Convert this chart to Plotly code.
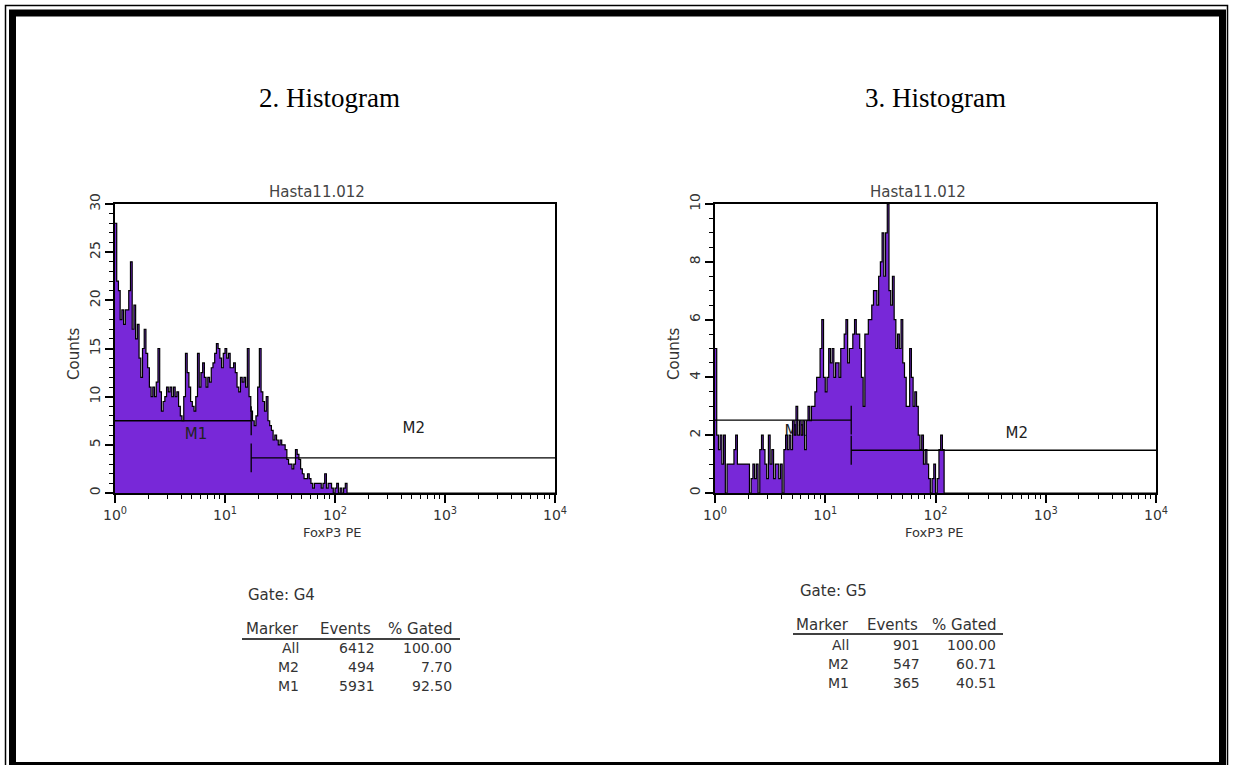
import plotly.graph_objects as go

W, H = 1234, 765

# ---------------- data ----------------
CHANNELS_PER_DECADE = 64
N_CHANNELS = 256

# counts per channel (channel 0 = 10^0)
LEFT_COUNTS = [28, 22, 21, 18, 19, 17.5, 19, 19, 21, 24, 17, 19.5, 16, 17.5, 14, 12, 15, 17, 14.5, 13,
               11, 10, 11, 10, 11.5, 15, 10.5, 8.5, 9.5, 10, 11, 10.5, 11, 10, 11, 10, 10.5, 9, 8, 7.5,
               10, 14.5, 12.5, 11, 9.5, 9, 8.5, 10, 14.5, 11, 12.5, 13.5, 12, 11, 12, 11.5, 13, 13.5, 14.5, 15.5,
               15, 14, 13, 14.5, 15, 14, 14.5, 13, 13, 13.5, 12.5, 11, 10.5, 12, 11.5, 12, 11, 15, 10, 8.5,
               7.5, 7, 8, 11, 15, 10.5, 9.5, 8.5, 10, 7.5, 7, 6.5, 5.5, 6, 5.5, 5, 5.5, 5, 5, 4.5,
               3.5, 3, 3, 2.5, 3, 4.5, 4, 3.5, 2.5, 2, 1.5, 1.5, 2, 1.5, 1, 0.5, 1, 1, 1, 1,
               0.5, 1, 2, 0.5, 1, 1, 0.5, 0, 0.5, 1, 0, 0.5, 0, 0.5, 1, 0]

RIGHT_COUNTS = [5, 2, 1.5, 2, 1, 2, 0, 1, 1, 1, 1, 1.5, 2,
                1, 1, 1, 1, 1, 1, 1, 0, 0.5, 1, 0.5, 1, 0,
                1.5, 2, 1.5, 1, 0.5, 2, 1, 1.5, 0.5, 1, 1, 0.5, 1, 0,
                1.5, 2, 1.5, 2, 1.5, 2.5, 2, 3, 2, 2.5, 2, 2.5, 1.5, 2.5, 3, 2.5, 3, 3, 3.5,
                4, 4, 5, 6, 4, 3.5, 4, 5, 4.5, 5, 4, 4.5, 4.5, 4, 5, 5, 5.5, 6, 4.5, 5,
                5, 5.5, 6, 5.5, 5.5, 5, 4, 3, 5.5, 5.5, 6, 6, 6.5, 7, 7, 6.5, 7.5, 8,
                9, 7.5, 9, 10, 7, 6.5, 7.5, 6, 5, 5.5, 5, 6, 4.5, 4, 3, 3, 5, 4, 3, 3.5,
                3, 2, 1.5, 2, 1, 1.5, 1, 0.5, 0, 0.5, 1, 0, 0.5, 1.5, 2, 1.5, 0]

X_TICK_VALUES = [1, 10, 100, 1000, 10000]
X_TICK_TEXT = ["10<sup>0</sup>", "10<sup>1</sup>", "10<sup>2</sup>", "10<sup>3</sup>", "10<sup>4</sup>"]
X_MINOR_DIGITS = [2, 3, 4, 5, 6, 7, 8, 9]

# markers: (start, end, level)
LEFT_M1 = (1, 17.3, 7.5)
LEFT_M2 = (17.3, 10000, 3.65)
RIGHT_M1 = (1, 17.2, 2.52)
RIGHT_M2 = (17.2, 10000, 1.48)

PANEL_TITLES = ["2. Histogram", "3. Histogram"]
FILE_NAME = "Hasta11.012"
X_LABEL = "FoxP3 PE"
Y_LABEL = "Counts"

TABLE_HEADERS = ["Marker", "Events", "% Gated"]
LEFT_GATE = "Gate: G4"
LEFT_MARKERS = ["All", "M2", "M1"]
LEFT_EVENTS = ["6412", "494", "5931"]
LEFT_GATED = ["100.00", "7.70", "92.50"]
RIGHT_GATE = "Gate: G5"
RIGHT_MARKERS = ["All", "M2", "M1"]
RIGHT_EVENTS = ["901", "547", "365"]
RIGHT_GATED = ["100.00", "60.71", "40.51"]

# ---------------- style ----------------
PURPLE = "#7828D8"
SANS = "DejaVu Sans, Verdana, sans-serif"
SERIF = "Liberation Serif, Times New Roman, serif"
TXT = "#333333"


def fx(px):
    return px / W


def fy(py):
    return 1 - py / H


def hist_xy(counts):
    vals = list(counts) + [0] * (N_CHANNELS - len(counts))
    xs = [10 ** (i / CHANNELS_PER_DECADE) for i in range(N_CHANNELS)] + [10 ** (N_CHANNELS / CHANNELS_PER_DECADE)]
    ys = vals + [vals[-1]]
    return xs, ys


def marker_xy(m1, m2, half):
    xs, ys = [], []
    for (a, b, lvl) in (m1, m2):
        xs += [a, b, None]
        ys += [lvl, lvl, None]
    # end tick of M1, start tick of M2
    xs += [m1[1], m1[1], None, m2[0], m2[0], None]
    ys += [m1[2] - half, m1[2] + half, None, m2[2] - half, m2[2] + half, None]
    return xs, ys


fig = go.Figure()

minor_vals = [d * 10 ** e for e in range(4) for d in X_MINOR_DIGITS]

panels = [
    dict(xa="x", ya="y", counts=LEFT_COUNTS, m1=LEFT_M1, m2=LEFT_M2, half=1.5,
         m1lab=(5.45, 6.0), m2lab=(520, 6.6), m1_under=False),
    dict(xa="x2", ya="y2", counts=RIGHT_COUNTS, m1=RIGHT_M1, m2=RIGHT_M2, half=0.5,
         m1lab=(5.4, 2.1), m2lab=(545, 2.05), m1_under=True),
]

for p in panels:
    lab_font = dict(family=SANS, size=15, color="#222222")
    if p["m1_under"]:
        fig.add_trace(go.Scatter(x=[p["m1lab"][0]], y=[p["m1lab"][1]], mode="text", text=["M1"],
                                 textfont=lab_font, xaxis=p["xa"], yaxis=p["ya"],
                                 showlegend=False, hoverinfo="skip"))
    hx, hy = hist_xy(p["counts"])
    fig.add_trace(go.Scatter(x=hx, y=hy, mode="lines", line=dict(shape="hv", color="black", width=1.2),
                             fill="tozeroy", fillcolor=PURPLE, xaxis=p["xa"], yaxis=p["ya"],
                             showlegend=False, hoverinfo="skip"))
    mx, my = marker_xy(p["m1"], p["m2"], p["half"])
    fig.add_trace(go.Scatter(x=mx, y=my, mode="lines", line=dict(color="black", width=1.3),
                             xaxis=p["xa"], yaxis=p["ya"], showlegend=False, hoverinfo="skip"))
    texts = [("M2", p["m2lab"])]
    if not p["m1_under"]:
        texts.append(("M1", p["m1lab"]))
    for t, (tx, ty) in texts:
        fig.add_trace(go.Scatter(x=[tx], y=[ty], mode="text", text=[t], textfont=lab_font,
                                 xaxis=p["xa"], yaxis=p["ya"], showlegend=False, hoverinfo="skip"))

xcommon = dict(type="log", range=[0, 4], showgrid=False, zeroline=False, showline=True,
               linecolor="black", linewidth=1.5, mirror=True, ticks="outside", ticklen=8,
               tickwidth=1.5, tickcolor="black", tickmode="array", tickvals=X_TICK_VALUES,
               ticktext=X_TICK_TEXT, tickangle=0, automargin=False,
               tickfont=dict(family=SANS, size=14, color=TXT),
               minor=dict(tickmode="array", tickvals=minor_vals, ticks="outside", ticklen=4,
                          tickwidth=1.2, tickcolor="black"),
               fixedrange=True)
ycommon = dict(showgrid=False, zeroline=False, showline=True, linecolor="black", linewidth=1.5,
               mirror=True, ticks="outside", ticklen=8, tickwidth=1.5, tickcolor="black",
               tickangle=-90, tickfont=dict(family=SANS, size=14, color=TXT), tick0=0,
               automargin=False, fixedrange=True)

ydom = [fy(493), fy(204)]
fig.update_layout(
    width=W, height=H,
    margin=dict(l=0, r=0, t=0, b=0, autoexpand=False),
    paper_bgcolor="white", plot_bgcolor="white",
    xaxis=dict(xcommon, domain=[fx(115), fx(555)], anchor="y"),
    yaxis=dict(ycommon, domain=ydom, anchor="x", range=[0, 30], dtick=5,
               minor=dict(dtick=1, ticks="outside", ticklen=4, tickwidth=1.2, tickcolor="black")),
    xaxis2=dict(xcommon, domain=[fx(715), fx(1156)], anchor="y2"),
    yaxis2=dict(ycommon, domain=ydom, anchor="x2", range=[0, 10], dtick=2,
                minor=dict(dtick=0.5, ticks="outside", ticklen=4, tickwidth=1.2, tickcolor="black")),
)

ann = []


def text(x, y, s, size, family=SANS, color=TXT, xanchor="center", angle=0):
    ann.append(dict(x=fx(x), y=fy(y), xref="paper", yref="paper", text=s, showarrow=False,
                    xanchor=xanchor, yanchor="middle", textangle=angle,
                    font=dict(family=family, size=size, color=color)))


# panel titles
text(330, 98, PANEL_TITLES[0], 27, family=SERIF, color="black")
text(935, 98, PANEL_TITLES[1], 27, family=SERIF, color="black")
# file names
text(317, 192, FILE_NAME, 15, color="#444444")
text(918, 192, FILE_NAME, 15, color="#444444")
# axis titles
text(332, 532, X_LABEL, 13)
text(934, 532, X_LABEL, 13)
text(74, 354, Y_LABEL, 15, angle=-90)
text(674, 354, Y_LABEL, 15, angle=-90)

# tables
tables = [
    dict(gate=LEFT_GATE, gx=246, gy=595, hy=629, line=(242, 460, 639), rows=(648, 667, 686),
         cols=(301, 377, 454), hcols=(301, 373, 454),
         markers=LEFT_MARKERS, events=LEFT_EVENTS, gated=LEFT_GATED),
    dict(gate=RIGHT_GATE, gx=798, gy=591, hy=625, line=(793, 1003, 634), rows=(645, 664, 683),
         cols=(851, 922, 998), hcols=(851, 920, 998),
         markers=RIGHT_MARKERS, events=RIGHT_EVENTS, gated=RIGHT_GATED),
]
shapes = []
for t in tables:
    text(t["gx"], t["gy"], t["gate"], 15, xanchor="left")
    for h, cx in zip(TABLE_HEADERS, t["hcols"]):
        text(cx, t["hy"], h, 15, xanchor="right")
    for ry, m, e, g in zip(t["rows"], t["markers"], t["events"], t["gated"]):
        text(t["cols"][0], ry, m, 14, xanchor="right")
        text(t["cols"][1], ry, e, 14, xanchor="right")
        text(t["cols"][2], ry, g, 14, xanchor="right")
    x0, x1, ly = t["line"]
    shapes.append(dict(type="line", xref="paper", yref="paper", x0=fx(x0), x1=fx(x1),
                       y0=fy(ly), y1=fy(ly), line=dict(color="black", width=1.5)))

# page frame: thin outer line + thick inner border
shapes.append(dict(type="rect", xref="paper", yref="paper", x0=fx(5.5), x1=fx(1227.5),
                   y0=fy(772), y1=fy(5.5), line=dict(color="black", width=1.5)))
shapes.append(dict(type="rect", xref="paper", yref="paper", x0=fx(12.5), x1=fx(1222.5),
                   y0=fy(765.5), y1=fy(13), line=dict(color="black", width=7)))

fig.update_layout(annotations=ann, shapes=shapes)

fig.write_html("out.html")
